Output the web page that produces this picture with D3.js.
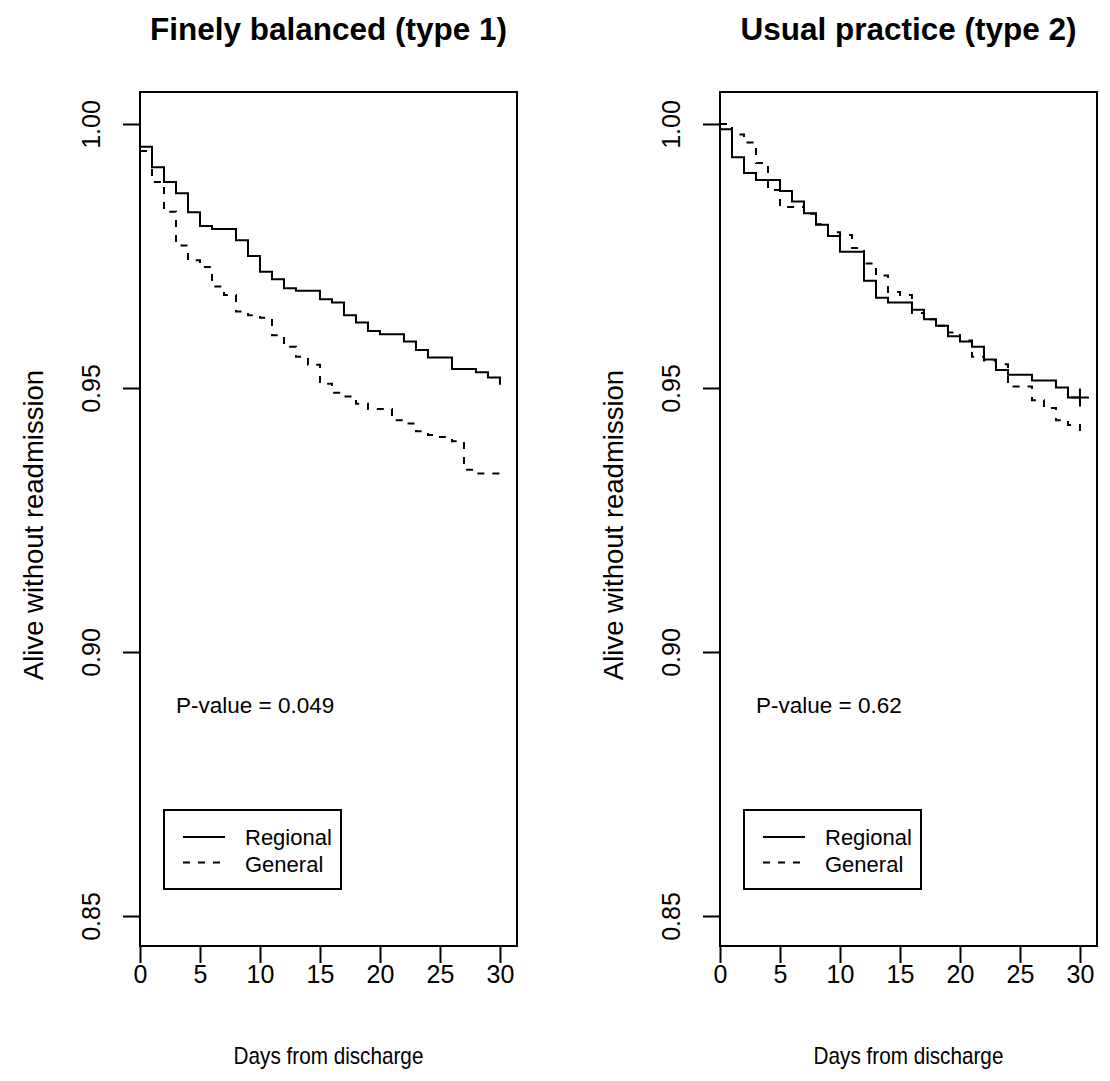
<!DOCTYPE html>
<html>
<head>
<meta charset="utf-8">
<script src="https://cdn.jsdelivr.net/npm/d3@7"></script>
<style>
  body { margin: 0; background: #fff; }
  text { font-family: "Liberation Sans", Arial, sans-serif; fill: #000; }
</style>
</head>
<body>
<svg id="chart" width="1110" height="1081"></svg>
<script>
// panel titles and p-values
const titles = ["Finely balanced (type 1)", "Usual practice (type 2)"];
const pValues = ["P-value = 0.049", "P-value = 0.62"];
const groups = ["Regional", "General"];
const xTicks = [0, 5, 10, 15, 20, 25, 30];
const yTicks = [0.85, 0.90, 0.95, 1.00];

// type 1 curves (day of step, survival after step)
const t1RegionalDays = [0, 1, 2, 3, 4, 5, 6, 8, 9, 10, 11, 12, 13, 15, 16, 17, 18, 19, 20, 22, 23, 24, 26, 28, 29, 30];
const t1RegionalSurv = [0.9957, 0.9918, 0.989, 0.9869, 0.9833, 0.9807, 0.9801, 0.978, 0.975, 0.972, 0.9706, 0.9689, 0.9684, 0.9668, 0.9662, 0.9638, 0.9624, 0.9608, 0.9602, 0.9588, 0.9572, 0.9558, 0.9536, 0.953, 0.952, 0.9506];
const t1GeneralDays = [0, 1, 2, 3, 4, 5, 6, 7, 8, 9, 10, 11, 12, 13, 14, 15, 16, 17, 18, 19, 21, 22, 23, 24, 25, 26, 27, 28, 30];
const t1GeneralSurv = [0.9949, 0.989, 0.9834, 0.977, 0.9742, 0.9729, 0.9692, 0.9676, 0.9645, 0.9638, 0.9633, 0.96, 0.9578, 0.9559, 0.9544, 0.9508, 0.9491, 0.9484, 0.947, 0.946, 0.9439, 0.9433, 0.9418, 0.9411, 0.9407, 0.9399, 0.9345, 0.9338, 0.933];

// type 2 curves
const t2RegionalDays = [0, 1, 2, 3, 5, 6, 7, 8, 9, 10, 12, 13, 14, 16, 17, 18, 19, 20, 21, 22, 23, 24, 26, 28, 29, 30];
const t2RegionalSurv = [0.999, 0.9937, 0.9907, 0.9894, 0.9873, 0.9853, 0.9831, 0.9809, 0.9788, 0.9758, 0.9703, 0.9671, 0.9662, 0.9648, 0.963, 0.9618, 0.9598, 0.9588, 0.9578, 0.9554, 0.9534, 0.9525, 0.9514, 0.9501, 0.9482, 0.9482];
const t2GeneralDays = [0, 1, 2, 3, 4, 5, 7, 8, 9, 10, 11, 12, 13, 14, 15, 16, 17, 18, 19, 20, 21, 22, 23, 24, 26, 27, 28, 29, 30];
const t2GeneralSurv = [1.0, 0.998, 0.9965, 0.9926, 0.9875, 0.9843, 0.983, 0.981, 0.9795, 0.979, 0.9765, 0.9736, 0.9713, 0.9682, 0.9676, 0.9642, 0.963, 0.9618, 0.9605, 0.959, 0.9559, 0.9552, 0.9545, 0.9503, 0.9477, 0.9462, 0.9439, 0.943, 0.9417];
const t2Censor = [[30, 0.9482]];

const panels = [
  { curves: [[t1RegionalDays, t1RegionalSurv], [t1GeneralDays, t1GeneralSurv]], censor: [] },
  { curves: [[t2RegionalDays, t2RegionalSurv], [t2GeneralDays, t2GeneralSurv]], censor: t2Censor }
];

const svg = d3.select('#chart');
const boxW = 377, boxH = 854, boxTop = 92;
const panelLeft = [140, 720];
const dash = ['none', '7,8'];

const x = d3.scaleLinear().domain([0, 31.42]).range([0, boxW]);
const y = d3.scaleLinear().domain([0.84432, 1.00606]).range([boxH, 0]);

panels.forEach((p, i) => {
  const g = svg.append('g').attr('transform', `translate(${panelLeft[i]},${boxTop})`);

  // box
  g.append('rect').attr('x', 0).attr('y', 0).attr('width', boxW).attr('height', boxH)
    .attr('fill', 'none').attr('stroke', '#000').attr('stroke-width', 2);

  // x axis
  const xa = g.append('g').attr('transform', `translate(0,${boxH})`)
    .call(d3.axisBottom(x).tickValues(xTicks).tickSize(17).tickPadding(5).tickFormat(d3.format('d')));
  xa.select('.domain').remove();
  xa.selectAll('line').attr('stroke-width', 2);
  xa.selectAll('text').attr('font-size', 25).attr('font-family', '"Liberation Sans", Arial, sans-serif')
    .attr('dy', null).attr('y', 37);

  // y axis
  const ya = g.append('g').call(d3.axisLeft(y).tickValues(yTicks).tickSize(17).tickFormat(d3.format('.2f')));
  ya.select('.domain').remove();
  ya.selectAll('line').attr('stroke-width', 2);
  ya.selectAll('text').attr('font-size', 25).attr('font-family', '"Liberation Sans", Arial, sans-serif')
    .attr('x', null).attr('dy', null).attr('text-anchor', 'middle')
    .attr('transform', 'translate(-40,0) rotate(-90)');

  // curves
  const line = d3.line().x(d => x(d[0])).y(d => y(d[1])).curve(d3.curveStepAfter);
  p.curves.forEach((c, k) => {
    const pts = c[0].map((d, j) => [d, c[1][j]]);
    g.append('path').attr('d', line(pts)).attr('fill', 'none').attr('stroke', '#000')
      .attr('stroke-width', 2).attr('stroke-dasharray', dash[k]);
  });

  // censor marks
  p.censor.forEach(c => {
    g.append('path')
      .attr('d', `M${x(c[0]) - 9},${y(c[1])}h18M${x(c[0])},${y(c[1]) - 9}v18`)
      .attr('stroke', '#000').attr('stroke-width', 2);
  });

  // p-value
  g.append('text').attr('x', x(3)).attr('y', y(0.8885)).attr('font-size', 22.5).text(pValues[i]);

  // legend
  const lg = g.append('g').attr('transform', 'translate(24,718)');
  lg.append('rect').attr('width', 177).attr('height', 79).attr('fill', 'none')
    .attr('stroke', '#000').attr('stroke-width', 2);
  groups.forEach((name, k) => {
    lg.append('line').attr('x1', 19).attr('x2', 61).attr('y1', 27 + k * 25.5).attr('y2', 27 + k * 25.5)
      .attr('stroke', '#000').attr('stroke-width', 2).attr('stroke-dasharray', dash[k]);
    lg.append('text').attr('x', 81).attr('y', 35 + k * 26.5).attr('font-size', 22).text(name);
  });

  // titles
  svg.append('text').attr('x', panelLeft[i] + boxW / 2).attr('y', 40).attr('text-anchor', 'middle')
    .attr('font-size', 31.5).attr('font-weight', 'bold').text(titles[i]);
  svg.append('text')
    .attr('transform', `translate(${panelLeft[i] + boxW / 2},1064) scale(0.9,1)`)
    .attr('text-anchor', 'middle').attr('font-size', 23).text('Days from discharge');
  svg.append('text').attr('transform', `translate(${panelLeft[i] - 97},${boxTop + boxH / 2 + 6}) rotate(-90)`)
    .attr('text-anchor', 'middle').attr('font-size', 27.5).text('Alive without readmission');
});
</script>
</body>
</html>
